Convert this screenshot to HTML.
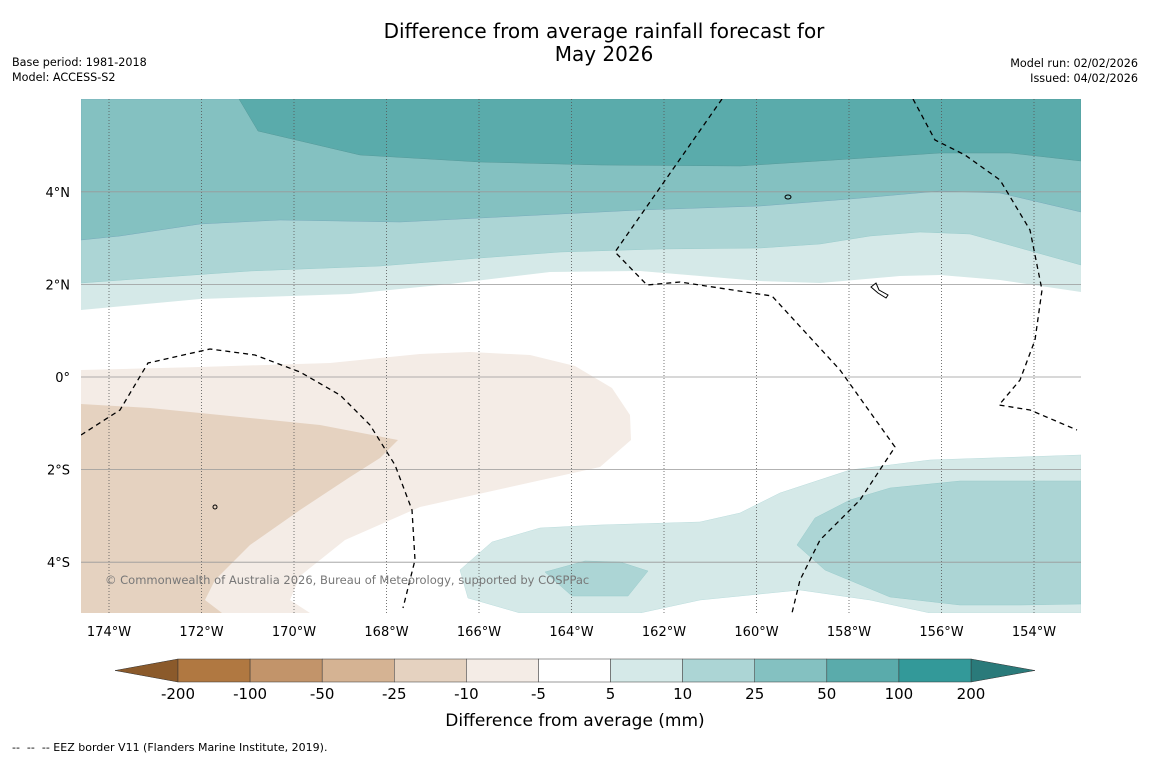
<!DOCTYPE html>
<html><head><meta charset="utf-8"><style>
body{margin:0;background:#fff;font-family:"Liberation Sans",sans-serif}
svg text{font-family:"DejaVu Sans","Liberation Sans",sans-serif}
</style></head><body>
<svg id="s" width="1150" height="758" viewBox="0 0 1150 758" xmlns="http://www.w3.org/2000/svg">
<text x="604" y="38" font-size="20" text-anchor="middle">Difference from average rainfall forecast for</text>
<text x="604" y="61" font-size="20" text-anchor="middle">May 2026</text>
<text x="12" y="66" font-size="11.2">Base period: 1981-2018</text>
<text x="12" y="81" font-size="11.2">Model: ACCESS-S2</text>
<text x="1138" y="67" font-size="11.2" text-anchor="end">Model run: 02/02/2026</text>
<text x="1138" y="82" font-size="11.2" text-anchor="end">Issued: 04/02/2026</text>
<g>
<clipPath id="c"><rect x="81" y="99" width="1000" height="514"/></clipPath>
<g clip-path="url(#c)">
<rect x="81" y="99" width="1000" height="514" fill="#fff"/>
<polygon fill="#d5e9e8" points="81,99 1081,99 1081,292 1000,280 940,275 900,276 820,283 760,281 640,271 550,272 450,284 350,294 200,299 81,310"/>
<polygon fill="#acd5d5" stroke="#9cc" stroke-width="0.5" points="81,99 1081,99 1081,265 970,234 920,232 870,236 820,244 760,248 660,249 560,252 480,258 380,266 250,271 150,278 81,283"/>
<polygon fill="#84c1c1" stroke="#7ab" stroke-width="0.5" points="81,99 1081,99 1081,212 1000,193 940,191 850,199 760,206 640,210 520,216 400,222 280,220 200,224 120,236 81,240"/>
<polygon fill="#5aabab" stroke="#599" stroke-width="0.5" points="239,99 1081,99 1081,161 1010,153 940,153 850,159 740,166 600,165 480,162 360,155 258,131"/>
<polygon fill="#f4ece6" points="81,370 200,367 330,363 420,354 470,352 530,355 575,366 612,388 630,415 631,440 600,467 510,487 420,507 345,540 300,576 290,600 310,613 81,613"/>
<polygon fill="#e5d2c0" points="81,404 150,408 250,418 320,425 398,440 380,458 350,477 300,510 250,545 215,580 205,600 222,613 81,613"/>
<polygon fill="#d5e9e8" stroke="#bdd" stroke-width="0.5" points="460,570 492,542 540,528 600,525 700,522 740,513 780,493 850,470 930,460 1081,455 1081,613 930,613 870,600 800,590 700,600 640,613 520,613 468,598"/>
<polygon fill="#acd5d5" stroke="#9cc" stroke-width="0.5" points="797,545 815,518 850,500 890,488 960,481 1081,481 1081,604 1020,605 960,605 890,597 825,570"/>
<polygon fill="#acd5d5" stroke="#9cc" stroke-width="0.5" points="545,572 585,561 620,562 648,571 628,596 572,596"/>
<g id="grid"></g>
<g fill="none" stroke="#000" stroke-width="1.3" stroke-dasharray="5,4">
<polyline points="722,99 615,252 647,285 680,282 772,296 840,370 895,447 860,500 820,540 800,580 792,613"/>
<polyline points="913,99 935,140 965,155 1000,180 1030,230 1042,290 1035,340 1020,380 999,405 1030,410 1077,430"/>
<polyline points="81,435 120,410 148,363 210,349 255,355 300,372 340,395 370,425 395,465 412,510 415,560 403,608"/>
</g>
<g fill="none" stroke="#000" stroke-width="1">
<ellipse cx="788" cy="197" rx="3" ry="2"/>
<path d="M871,287 L876,283 L879,290 L888,295 L886,298 L878,293 Z"/>
<ellipse cx="215" cy="507" rx="2" ry="2"/>
</g>
</g>
<text x="105" y="584" font-size="11.5" fill="#777">© Commonwealth of Australia 2026, Bureau of Meteorology, supported by COSPPac</text>
<g id="axes"></g>
</g>
<g id="cbar"></g>
<text x="575" y="726" font-size="17" text-anchor="middle">Difference from average (mm)</text>
<text x="12" y="751" font-size="11" xml:space="preserve">--  --  -- EEZ border V11 (Flanders Marine Institute, 2019).</text>
</svg>
<script>
const lonTicks=[-174,-172,-170,-168,-166,-164,-162,-160,-158,-156,-154];
const latTicks=[4,2,0,-2,-4];
const cbLabels=["-200","-100","-50","-25","-10","-5","5","10","25","50","100","200"];
const cbColors=["#b07841","#c2946a","#d5b393","#e5d2c0","#f4ece6","#ffffff","#d5e9e8","#acd5d5","#84c1c1","#5aabab","#339999"];
const NS="http://www.w3.org/2000/svg";
const X=lon=>109+(lon+174)*46.25;
const Y=lat=>377-lat*46.3;
function mk(t,a,p){const e=document.createElementNS(NS,t);for(const k in a)e.setAttribute(k,a[k]);p.appendChild(e);return e;}
const grid=document.getElementById('grid'),axes=document.getElementById('axes');
lonTicks.forEach(l=>{
 const g=mk('line',{x1:X(l),x2:X(l),y1:99,y2:613,stroke:'#555','stroke-width':0.8,'stroke-dasharray':'1,2'},grid);
 
 
 const t=mk('text',{x:X(l),y:636,'font-size':13,'text-anchor':'middle'},axes);
 t.textContent=Math.abs(l)+'°W';
 
 
});
latTicks.forEach(l=>{
 const g=mk('line',{x1:81,x2:1081,y1:Y(l),y2:Y(l),stroke:'#999','stroke-width':0.8},grid);
 
 
 const t=mk('text',{x:70,y:Y(l)+5,'font-size':13,'text-anchor':'end'},axes);
 t.textContent=l==0?'0°':Math.abs(l)+'°'+(l>0?'N':'S');
 
 
});
const cb=document.getElementById('cbar');
const x0=178,x1=971,y0=659,h=23,w=(x1-x0)/cbColors.length;
const lt=mk('polygon',{points:`115,670.5 ${x0},${y0} ${x0},${y0+h}`,fill:'#8b5a2b',stroke:'#333','stroke-width':0.5},cb);


const rt=mk('polygon',{points:`1035,670.5 ${x1},${y0} ${x1},${y0+h}`,fill:'#2a7a7a',stroke:'#333','stroke-width':0.5},cb);


cbColors.forEach((c,i)=>{
 const r=mk('rect',{x:x0+i*w,y:y0,width:w,height:h,fill:c,stroke:'#333','stroke-width':0.5},cb);
 
 
});
cbLabels.forEach((s,i)=>{
 const t=mk('text',{x:x0+i*w,y:699,'font-size':15,'text-anchor':'middle'},cb);
 t.textContent=s;
 
 
});
</script>
</body></html>
